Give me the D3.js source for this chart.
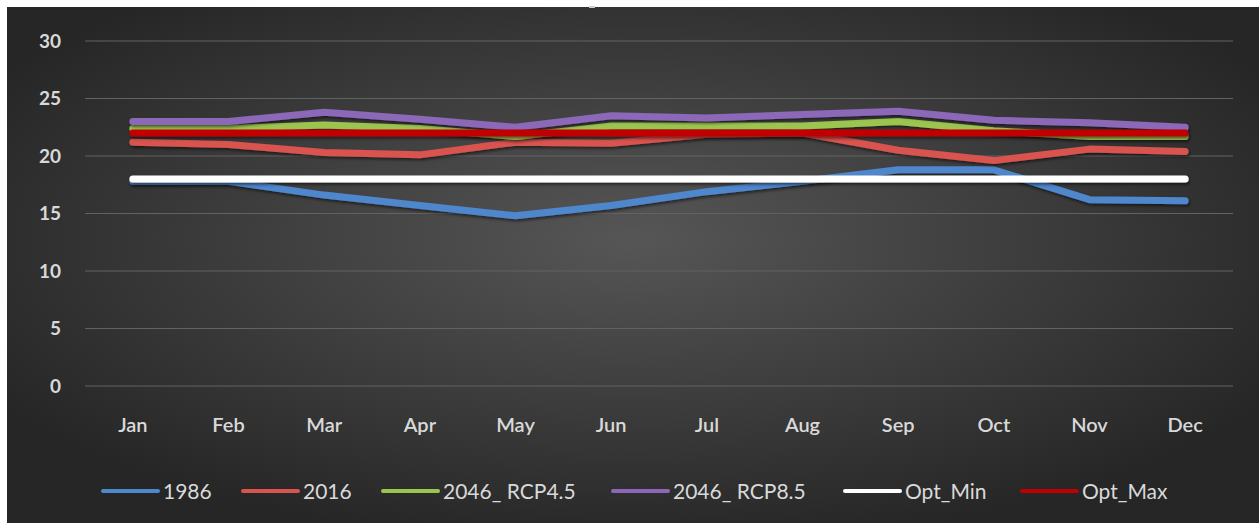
<!DOCTYPE html>
<html>
<head>
<meta charset="utf-8">
<script src="https://cdn.jsdelivr.net/npm/d3@7"></script>
<style>
  body { margin: 0; background: #fff; }
  svg { display: block; }
</style>
</head>
<body>
<script>
let width = 1259;
let height = 523;

// data
let months = ["Jan", "Feb", "Mar", "Apr", "May", "Jun", "Jul", "Aug", "Sep", "Oct", "Nov", "Dec"];
let yTicks = [0, 5, 10, 15, 20, 25, 30];
let seriesNames = ["1986", "2016", "2046_ RCP4.5", "2046_ RCP8.5", "Opt_Min", "Opt_Max"];
let v1986 = [17.8, 17.8, 16.6, 15.7, 14.8, 15.7, 16.9, 17.8, 18.8, 18.8, 16.2, 16.1];
let v2016 = [21.2, 21.0, 20.3, 20.1, 21.2, 21.1, 21.9, 22.0, 20.5, 19.6, 20.6, 20.4];
let vRcp45 = [22.4, 22.4, 22.7, 22.4, 21.7, 22.6, 22.6, 22.6, 23.0, 22.2, 21.7, 21.7];
let vRcp85 = [23.0, 23.0, 23.8, 23.2, 22.5, 23.5, 23.3, 23.6, 23.9, 23.1, 22.9, 22.5];
let optMin = [18, 18, 18, 18, 18, 18, 18, 18, 18, 18, 18, 18];
let optMax = [22, 22, 22, 22, 22, 22, 22, 22, 22, 22, 22, 22];

let colors = ["#4f87cc", "#d9534f", "#9bc54f", "#8c67b8", "#ffffff", "#c00000"];
let allValues = [v1986, v2016, vRcp45, vRcp85, optMin, optMax];

let svg = d3.select("body").append("svg")
            .attr("width", width)
            .attr("height", height);

let defs = svg.append("defs");

// background radial gradient
let grad = defs.append("radialGradient")
               .attr("id", "bg")
               .attr("cx", "50%").attr("cy", "45%")
               .attr("r", "60%");
grad.append("stop").attr("offset", "0%").attr("stop-color", "#565656");
grad.append("stop").attr("offset", "100%").attr("stop-color", "#262626");

// shadow under lines (user space so flat lines keep it)
let shadow = defs.append("filter").attr("id", "shadow")
                 .attr("filterUnits", "userSpaceOnUse")
                 .attr("x", 0).attr("y", 0)
                 .attr("width", width).attr("height", height);
shadow.append("feDropShadow")
      .attr("dx", 1).attr("dy", 2)
      .attr("stdDeviation", 1.5)
      .attr("flood-color", "#000")
      .attr("flood-opacity", 0.55);

svg.append("rect")
   .attr("x", 7).attr("y", 7)
   .attr("width", width - 7).attr("height", height - 7)
   .attr("fill", "url(#bg)");

// title remnant at top
svg.append("rect")
   .attr("x", 589).attr("y", 6)
   .attr("width", 6).attr("height", 2)
   .attr("fill", "#cfcfcf");

let x = d3.scaleBand().domain(months).range([85, 1233]);
let y = d3.scaleLinear().domain([0, 30]).range([386, 41]);

// gridlines
svg.append("g")
   .selectAll("line")
   .data(yTicks)
   .join("line")
   .attr("x1", 85).attr("x2", 1233)
   .attr("y1", d => y(d)).attr("y2", d => y(d))
   .attr("stroke", "#626262")
   .attr("stroke-width", 1);

// y axis labels
let yAxis = svg.append("g")
   .attr("transform", "translate(61,0)")
   .call(d3.axisLeft(y).tickValues(yTicks).tickSize(0).tickPadding(0));
yAxis.select(".domain").remove();
yAxis.selectAll("text")
     .attr("fill", "#d9d9d9")
     .attr("font-family", "Lato, 'Open Sans', sans-serif")
     .attr("font-weight", "bold")
     .attr("font-size", 19);

// x axis labels
let xAxis = svg.append("g")
   .attr("transform", "translate(0,418)")
   .call(d3.axisBottom(x).tickSize(0).tickPadding(0));
xAxis.select(".domain").remove();
xAxis.selectAll("text")
     .attr("fill", "#d9d9d9")
     .attr("font-family", "Lato, 'Open Sans', sans-serif")
     .attr("font-weight", "600")
     .attr("font-size", 20);

// lines
let line = d3.line()
             .x((d, i) => x(months[i]) + x.bandwidth() / 2)
             .y(d => y(d));

svg.append("g")
   .selectAll("path")
   .data(allValues)
   .join("path")
   .attr("d", d => line(d))
   .attr("fill", "none")
   .attr("stroke", (d, i) => colors[i])
   .attr("stroke-width", 7)
   .attr("stroke-linecap", "round")
   .attr("stroke-linejoin", "round")
   .attr("filter", "url(#shadow)");

// legend
let legendX = [103, 243, 383, 613, 845, 1022];
let legend = svg.append("g")
   .selectAll("g")
   .data(seriesNames)
   .join("g")
   .attr("transform", (d, i) => `translate(${legendX[i]},491)`);

legend.append("line")
      .attr("x1", 0).attr("x2", 55)
      .attr("y1", 0).attr("y2", 0)
      .attr("stroke", (d, i) => colors[i])
      .attr("stroke-width", 4)
      .attr("stroke-linecap", "round");

legend.append("text")
      .attr("x", 60)
      .attr("y", 7.5)
      .attr("fill", "#d9d9d9")
      .attr("font-family", "Lato, 'Open Sans', sans-serif")
      .attr("font-size", 21)
      .text(d => d);
</script>
</body>
</html>
